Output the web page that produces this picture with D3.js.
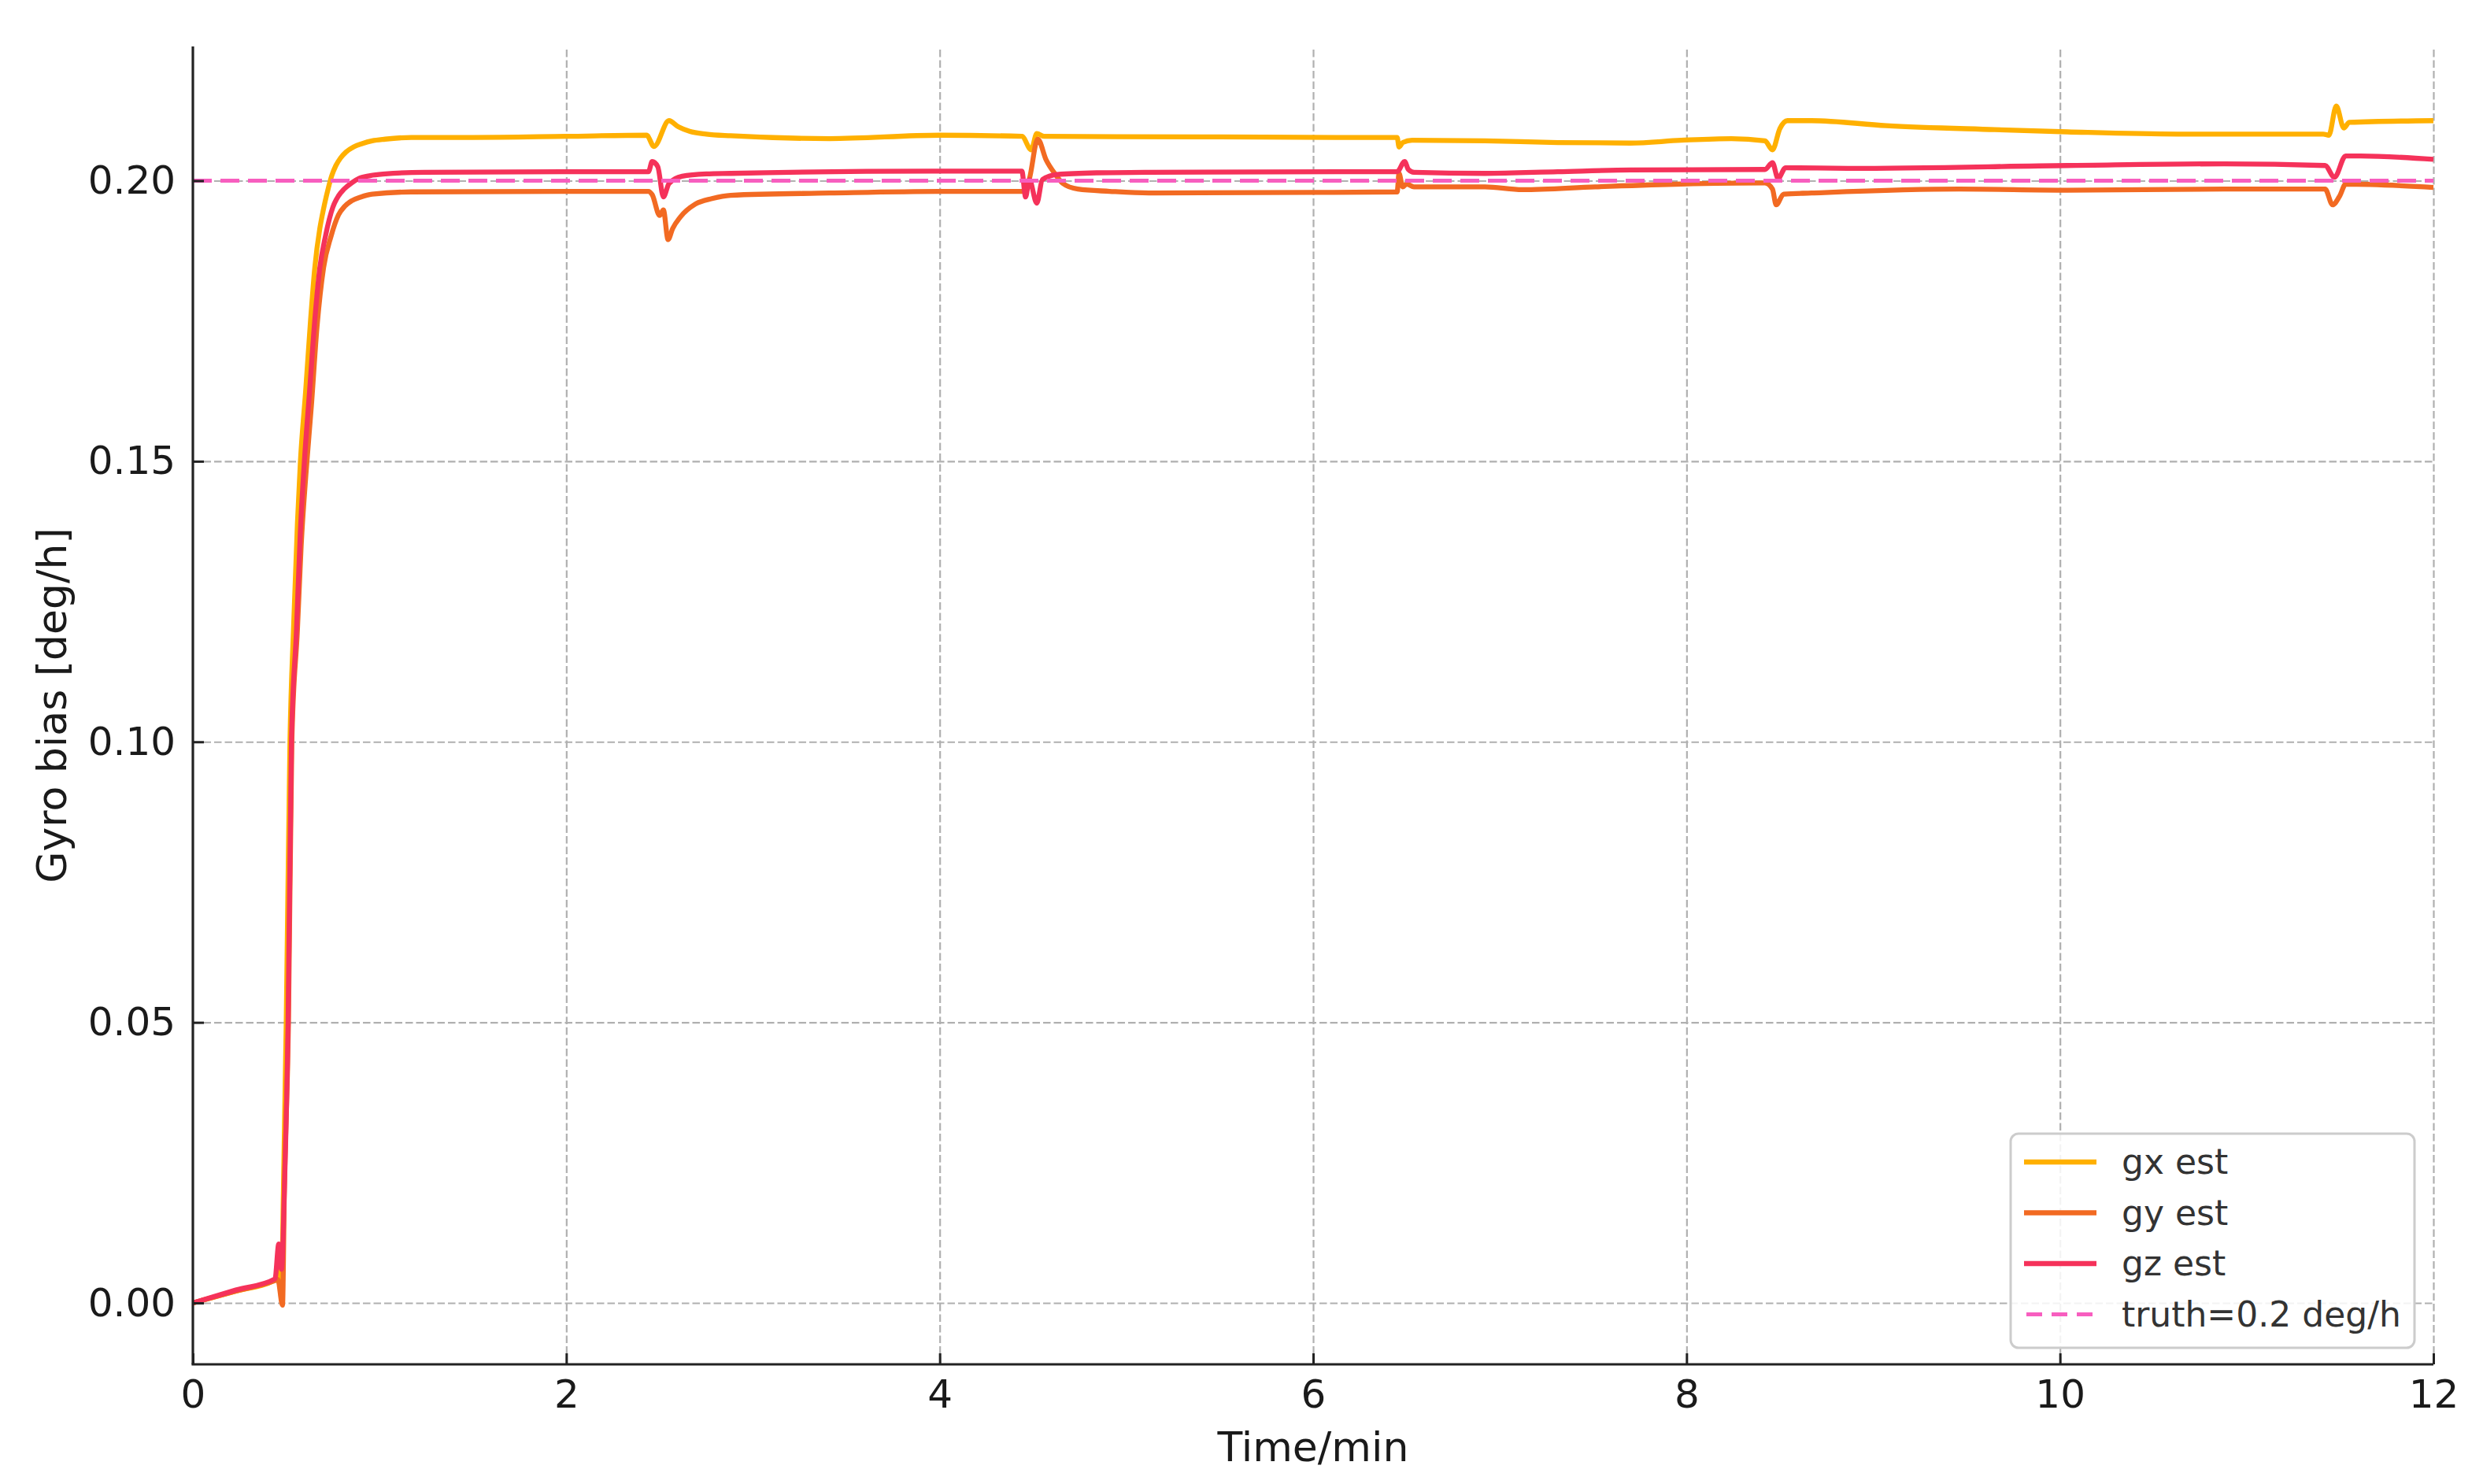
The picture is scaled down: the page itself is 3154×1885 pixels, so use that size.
<!DOCTYPE html>
<html>
<head>
<meta charset="utf-8">
<script src="https://cdn.jsdelivr.net/npm/d3@7"></script>
<style>
  body { margin: 0; background: #fff; }
  text { font-family: "DejaVu Sans", sans-serif; }
</style>
</head>
<body>
<svg id="chart" width="3154" height="1885"></svg>
<script>
// values, [time in min, bias in deg/h]
var timeTicks = [0, 2, 4, 6, 8, 10, 12];
var biasTicks = [0, 0.05, 0.10, 0.15, 0.20];
var seriesNames = ["gx est", "gy est", "gz est"];
var truthLabel = "truth=0.2 deg/h";
var truthBias = 0.2;

var gxData = [[0,0],[0.23,0.0021],[0.44,0.0041],[0.46,0.0058],[0.475,0.0030],[0.485,0.020],[0.50,0.050],[0.52,0.100],
  [0.54,0.121],[0.56,0.139],[0.576,0.150],[0.604,0.1625],[0.63,0.175],[0.653,0.1845],[0.68,0.1915],
  [0.70,0.195],[0.724,0.1985],[0.745,0.201],[0.766,0.2027],[0.79,0.204],[0.82,0.2051],[0.86,0.206],
  [0.906,0.2066],[0.96,0.2071],[1.03,0.2074],[1.17,0.2077],[1.5,0.2077],[2.0,0.2079],[2.43,0.2081],
  [2.47,0.2061],[2.55,0.2107],[2.60,0.2096],[2.66,0.2088],[2.75,0.2083],[2.88,0.2080],[3.41,0.2075],
  [4.0,0.2081],[4.44,0.2079],[4.49,0.2055],[4.52,0.2084],[4.56,0.2079],[5.5,0.2078],[6.13,0.2077],
  [6.45,0.2077],[6.46,0.2060],[6.48,0.2068],[6.53,0.2072],[6.92,0.2071],[7.31,0.2068],[7.70,0.2067],
  [7.97,0.2072],[8.24,0.2075],[8.42,0.2071],[8.46,0.2055],[8.50,0.2093],[8.54,0.2107],[8.67,0.2107],
  [9.07,0.2098],[9.65,0.2091],[10.04,0.2087],[10.63,0.2083],[11.41,0.2083],[11.44,0.2081],
  [11.48,0.2133],[11.52,0.2094],[11.55,0.2104],[12,0.2107]];

var gyData = [[0,0],[0.23,0.0021],[0.44,0.0040],[0.455,0.0042],[0.48,-0.0004],[0.49,0.020],[0.512,0.050],[0.53,0.100],
  [0.56,0.120],[0.58,0.135],[0.605,0.1475],[0.635,0.160],[0.665,0.174],[0.70,0.1845],[0.74,0.1901],
  [0.78,0.1939],[0.815,0.1955],[0.85,0.1964],[0.90,0.1971],[0.96,0.1976],[1.17,0.1980],[2.0,0.1981],
  [2.44,0.1981],[2.46,0.1975],[2.50,0.1938],[2.52,0.1948],[2.545,0.1895],[2.57,0.1915],[2.61,0.1935],
  [2.69,0.1958],[2.78,0.1968],[2.88,0.1974],[3.41,0.1978],[4.0,0.1981],[4.45,0.1981],[4.48,0.2003],
  [4.525,0.2074],[4.57,0.2037],[4.62,0.2011],[4.66,0.1995],[4.74,0.1985],[4.91,0.1981],[5.12,0.1978],
  [6.0,0.1979],[6.45,0.1980],[6.46,0.2013],[6.48,0.1989],[6.50,0.1994],[6.54,0.1989],[6.92,0.1989],
  [7.12,0.1984],[7.51,0.1989],[7.97,0.1994],[8.42,0.1996],[8.46,0.1985],[8.48,0.1957],[8.52,0.1976],
  [8.67,0.1978],[9.46,0.1985],[10.04,0.1983],[10.88,0.1985],[11.42,0.1985],[11.46,0.1957],
  [11.50,0.1974],[11.53,0.1994],[12,0.1988]];

var gzData = [[0,0],[0.23,0.0023],[0.44,0.0043],[0.46,0.0105],[0.475,0.0060],[0.49,0.020],[0.51,0.050],[0.528,0.100],
  [0.555,0.120],[0.575,0.137],[0.597,0.1499],[0.625,0.1625],[0.655,0.176],[0.68,0.1845],[0.71,0.1901],
  [0.75,0.1953],[0.78,0.1973],[0.81,0.1985],[0.85,0.1996],[0.89,0.2004],[0.95,0.2009],[1.03,0.2012],
  [1.24,0.2015],[2.0,0.2016],[2.44,0.2016],[2.46,0.2034],[2.49,0.2025],[2.52,0.1971],[2.55,0.1995],
  [2.62,0.2008],[2.75,0.2012],[2.88,0.2013],[3.96,0.2017],[4.44,0.2017],[4.46,0.1971],[4.48,0.2002],
  [4.52,0.1960],[4.55,0.2002],[4.63,0.2011],[4.84,0.2014],[5.12,0.2015],[6.13,0.2016],[6.45,0.2016],
  [6.49,0.2034],[6.51,0.2020],[6.54,0.2015],[6.92,0.2013],[7.31,0.2016],[7.70,0.2019],[8.42,0.2020],
  [8.46,0.2032],[8.49,0.2004],[8.53,0.2023],[8.87,0.2022],[10.04,0.2027],[10.88,0.2030],
  [11.42,0.2027],[11.47,0.2006],[11.53,0.2044],[11.61,0.2044],[12,0.2038]];

var colors = ["#FFB000", "#F26A22", "#F5325A"];
var truthColor = "#F75EBF";

var svg = d3.select("#chart");
var plotLeft = 245, plotRight = 3091, plotTop = 59, plotBottom = 1733;

var x = d3.scaleLinear().domain([0, 12]).range([plotLeft, plotRight]);
var y = d3.scaleLinear().domain([-0.01094, 0.22392]).range([plotBottom, plotTop]);

// grid
svg.append("g")
    .attr("transform", "translate(0," + plotBottom + ")")
    .call(d3.axisBottom(x).tickValues(timeTicks.slice(1)).tickSize(-(plotBottom - plotTop)).tickFormat(""))
    .call(function(g) { g.select(".domain").remove(); })
    .selectAll("line")
      .attr("stroke", "#b0b0b0")
      .attr("stroke-width", 2.2)
      .attr("stroke-dasharray", "9.5,4");

svg.append("g")
    .attr("transform", "translate(" + plotLeft + ",0)")
    .call(d3.axisLeft(y).tickValues(biasTicks).tickSize(-(plotRight - plotLeft)).tickFormat(""))
    .call(function(g) { g.select(".domain").remove(); })
    .selectAll("line")
      .attr("stroke", "#b0b0b0")
      .attr("stroke-width", 2.2)
      .attr("stroke-dasharray", "9.5,4");

var line = d3.line()
    .x(function(d) { return x(d[0]); })
    .y(function(d) { return y(d[1]); })
    .curve(d3.curveMonotoneX);

[gxData, gyData, gzData].forEach(function(data, i) {
  svg.append("path")
      .datum(data)
      .attr("fill", "none")
      .attr("stroke", colors[i])
      .attr("stroke-width", 6.3)
      .attr("stroke-linejoin", "round")
      .attr("d", line);
});

svg.append("path")
    .datum([[0, truthBias], [12, truthBias]])
    .attr("fill", "none")
    .attr("stroke", truthColor)
    .attr("stroke-width", 5.2)
    .attr("stroke-dasharray", "24,11")
    .attr("d", d3.line().x(function(d) { return x(d[0]); }).y(function(d) { return y(d[1]); }));

// axes, ticks pointing inward
var xAxis = svg.append("g")
    .attr("transform", "translate(0," + plotBottom + ")")
    .call(d3.axisBottom(x).tickValues(timeTicks).tickSize(-14).tickPadding(19).tickFormat(d3.format("d")));

var yAxis = svg.append("g")
    .attr("transform", "translate(" + plotLeft + ",0)")
    .call(d3.axisLeft(y).tickValues(biasTicks).tickSize(-14).tickPadding(22).tickFormat(d3.format(".2f")));

[xAxis, yAxis].forEach(function(g) {
  g.select(".domain").remove();
  g.selectAll(".tick line").attr("stroke", "#222").attr("stroke-width", 3);
  g.selectAll(".tick text").attr("fill", "#1a1a1a").style("font-size", "50px");
});

svg.append("line")
    .attr("x1", plotLeft).attr("x2", plotLeft).attr("y1", plotTop).attr("y2", plotBottom)
    .attr("stroke", "#222").attr("stroke-width", 3.2);
svg.append("line")
    .attr("x1", plotLeft - 1.6).attr("x2", plotRight).attr("y1", plotBottom).attr("y2", plotBottom)
    .attr("stroke", "#222").attr("stroke-width", 3.2);

svg.append("text")
    .attr("x", (plotLeft + plotRight) / 2)
    .attr("y", 1856)
    .attr("text-anchor", "middle")
    .attr("fill", "#1a1a1a")
    .style("font-size", "52px")
    .text("Time/min");

svg.append("text")
    .attr("transform", "translate(84," + (plotTop + plotBottom) / 2 + ") rotate(-90)")
    .attr("text-anchor", "middle")
    .attr("fill", "#1a1a1a")
    .style("font-size", "52px")
    .text("Gyro bias [deg/h]");

// legend
var legend = svg.append("g");
legend.append("rect")
    .attr("x", 2554).attr("y", 1440)
    .attr("width", 513).attr("height", 272)
    .attr("rx", 10)
    .attr("fill", "#fff")
    .attr("fill-opacity", 0.85)
    .attr("stroke", "#cccccc")
    .attr("stroke-width", 3);

var legendItems = seriesNames.map(function(name, i) {
  return { name: name, color: colors[i], dash: null };
});
legendItems.push({ name: truthLabel, color: truthColor, dash: "23,12" });

legendItems.forEach(function(d, i) {
  var cy = 1476 + i * 64.5;
  legend.append("line")
      .attr("x1", 2571).attr("x2", 2663)
      .attr("y1", cy).attr("y2", cy)
      .attr("stroke", d.color)
      .attr("stroke-width", d.dash ? 5.2 : 6.3)
      .attr("stroke-dasharray", d.dash ? "20,12" : null)
      .attr("transform", d.dash ? "translate(3,0)" : null);
  legend.append("text")
      .attr("x", 2695)
      .attr("y", cy)
      .attr("dy", "0.35em")
      .attr("fill", "#333")
      .style("font-size", "44px")
      .text(d.name);
});
</script>
</body>
</html>
